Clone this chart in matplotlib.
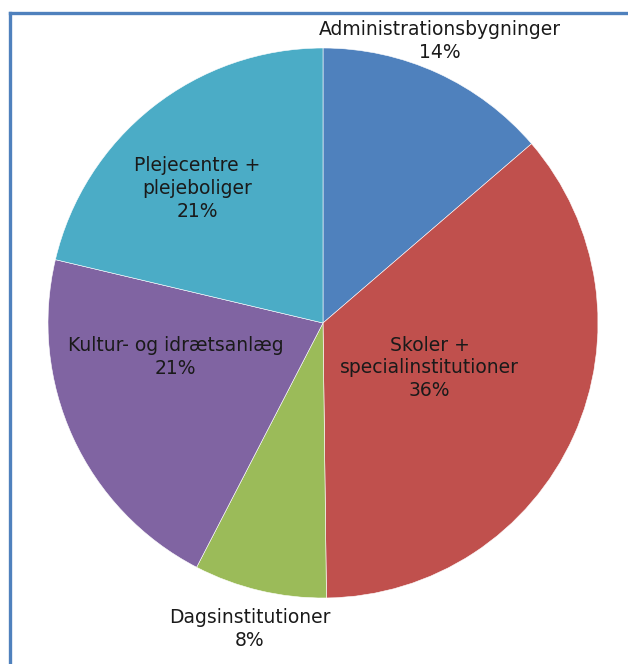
import numpy as np
import matplotlib.pyplot as plt
from matplotlib.lines import Line2D

## Data ##
categories = ['Administrationsbygninger', 'Skoler +\nspecialinstitutioner', 'Dagsinstitutioner',
              'Kultur- og idrætsanlæg', 'Plejecentre +\nplejeboliger']
# shares (labels show rounded values)
shares = [13.7, 36.1, 7.8, 21.1, 21.3]
colors = ['#4F81BD', '#C0504D', '#9BBB59', '#8064A2', '#4BACC6']

# label placement: distance from centre (fraction of radius) and angle nudge (deg)
label_dist = [1.11, 0.42, 1.145, 0.55, 0.67]
label_nudge = [2.2, 1.5, -0.1, -11.7, 4.7]

W, H = 628, 664
fig = plt.figure(figsize=(W / 100, H / 100), dpi=100)
ax = fig.add_axes([0, 0, 1, 1])

# pie centre in pixel units (y measured from bottom)
cx, cy, R = 323, H - 323, 275
wedges, _ = ax.pie(shares, colors=colors, startangle=90, counterclock=False,
                   center=(cx, cy), radius=R, frame=True,
                   wedgeprops=dict(edgecolor='white', linewidth=0.4))
ax.set_xlim(0, W)
ax.set_ylim(0, H)
ax.axis('off')

for w, cat, s, d, nudge in zip(wedges, categories, shares, label_dist, label_nudge):
    mid = np.deg2rad((w.theta1 + w.theta2) / 2 + nudge)
    x = cx + d * R * np.cos(mid)
    y = cy + d * R * np.sin(mid)
    ax.text(x, y, f"{cat}\n{round(s)}%", ha='center', va='center', fontsize=13.5,
            color='#1a1a1a', linespacing=1.25, family='DejaVu Sans')

# chart frame (only top and left edges visible in the crop)
fig.add_artist(Line2D([10 / W, 10 / W], [0, 1 - 13 / H], transform=fig.transFigure,
                      color='#4F81BD', linewidth=2.4, solid_capstyle='projecting'))
fig.add_artist(Line2D([10 / W, 1], [1 - 13 / H, 1 - 13 / H], transform=fig.transFigure,
                      color='#4F81BD', linewidth=2.4, solid_capstyle='projecting'))

fig.savefig('out.png', dpi=100)
